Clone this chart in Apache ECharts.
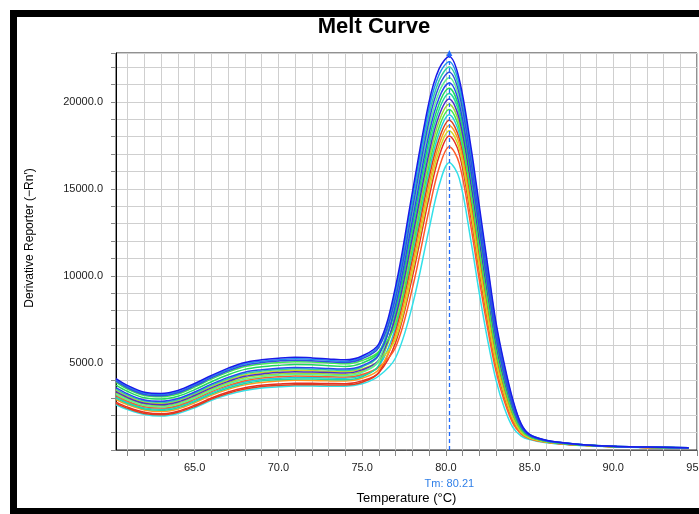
<!DOCTYPE html>
<html><head><meta charset="utf-8">
<script src="https://cdn.jsdelivr.net/npm/echarts@6/dist/echarts.min.js"></script>
<style>html,body{margin:0;padding:0;background:#fff}#c{width:699px;height:514px}</style>
</head><body><div id="c"></div>
<script>
const temps = [60.3,61,62,63,64,65,66,67,68,69,70,71,72,73,74,75,76,77,78,79,79.6,80.2,80.8,81.5,82,82.5,83,83.5,84,84.5,85,86,87,88,90,92,94.5];

const wellA = [4100,3700,3320,3250,3420,3820,4280,4700,5030,5180,5270,5320,5290,5230,5180,5400,6100,9400,14800,20000,21900,22600,21300,17400,14000,10600,7300,4900,2900,1500,900,560,420,320,210,170,130];
const wellH = [2600,2320,2040,1950,2100,2430,2850,3180,3420,3560,3630,3670,3670,3660,3660,3800,4250,5300,8300,12700,15200,16500,15600,12000,9000,6300,4000,2400,1300,800,600,420,330,260,180,140,100];
const well03 = [3950,3560,3190,3120,3290,3680,4140,4550,4870,5020,5110,5160,5130,5070,5030,5240,5900,8760,13830,18910,20900,21690,20450,16590,13250,9960,6810,4530,2660,1400,860,540,410,310,210,170,130];
const well04 = [3730,3360,3000,2930,3090,3470,3920,4320,4630,4780,4860,4910,4890,4840,4800,4990,5600,8110,12850,17810,19890,20770,19590,15780,12500,9310,6310,4150,2420,1290,810,520,390,300,200,160,120];
const well05 = [3500,3150,2810,2730,2890,3260,3710,4090,4390,4530,4610,4660,4640,4600,4570,4770,5450,8970,14150,19270,21230,21990,20730,16860,13500,10170,6970,4650,2740,1430,870,550,410,310,210,170,130];
const well06 = [3280,2940,2620,2540,2690,3060,3490,3860,4150,4290,4370,4410,4400,4370,4340,4520,5080,7470,11880,16720,18890,19860,18740,14970,11750,8670,5820,3780,2180,1190,770,500,380,290,200,160,120];
const well07 = [2900,2600,2300,2210,2360,2710,3140,3480,3740,3880,3960,4000,3990,3970,3960,4120,4620,6610,10580,15260,17550,18640,17600,13890,10750,7810,5160,3280,1860,1050,710,470,360,280,190,150,110];
const well08 = [2750,2460,2170,2080,2230,2570,2990,3330,3580,3720,3790,3840,3830,3820,3810,3970,4440,6180,9930,14530,16880,18030,17030,13350,10250,7380,4830,3030,1700,980,680,460,350,280,190,150,110];
const well09 = [3350,3010,2680,2600,2760,3130,3570,3940,4230,4370,4450,4500,4480,4450,4420,4600,5180,7680,12200,17080,19220,20160,19020,15240,12000,8880,5980,3900,2260,1220,780,500,380,300,200,160,120];
const well10 = [3050,2730,2420,2340,2500,2850,3280,3640,3900,4050,4120,4170,4160,4130,4120,4280,4820,7040,11230,15990,18220,19250,18170,14430,11250,8240,5490,3530,2020,1120,740,480,370,290,190,150,110];
const well11 = [3880,3490,3130,3060,3220,3610,4070,4470,4790,4940,5020,5070,5050,5000,4950,5140,5650,7250,11550,16350,18550,19550,18450,14700,11500,8450,5650,3650,2100,1150,750,490,380,290,200,160,120];
const well12 = [4030,3630,3260,3190,3350,3750,4210,4620,4950,5100,5190,5240,5210,5150,5100,5310,6000,9190,14480,19640,21570,22300,21020,17130,13750,10390,7140,4780,2820,1470,890,550,420,320,210,170,130];
const well13 = [3130,2800,2490,2410,2560,2920,3350,3710,3980,4130,4200,4250,4240,4210,4190,4340,4760,5900,9280,13800,16210,17420,16460,12810,9750,6950,4500,2780,1540,910,650,440,340,270,190,150,110];
const well14 = [3580,3220,2870,2800,2960,3330,3780,4170,4470,4610,4700,4740,4720,4680,4650,4840,5480,8330,13180,18180,20230,21080,19880,16050,12750,9530,6480,4280,2500,1330,830,530,400,310,200,160,120];
const well15 = [3200,2870,2550,2470,2630,2990,3420,3790,4060,4210,4290,4330,4320,4290,4270,4450,5150,8540,13500,18540,20560,21380,20160,16320,13000,9740,6640,4400,2580,1360,840,530,400,310,200,160,120];
const well16 = [2680,2390,2100,2020,2170,2500,2920,3260,3500,3640,3710,3750,3750,3740,3740,3890,4450,6820,10900,15620,17880,18940,17880,14160,11000,8020,5320,3400,1940,1080,720,480,370,280,190,150,110];
const well17 = [3430,3080,2740,2670,2830,3200,3640,4020,4310,4450,4530,4580,4560,4520,4500,4660,5120,6390,10250,14890,17210,18330,17310,13620,10500,7590,4990,3150,1780,1010,690,460,360,280,190,150,110];
const well18 = [2980,2670,2360,2280,2430,2780,3210,3560,3820,3970,4040,4080,4080,4050,4040,4210,4860,7900,12530,17450,19560,20470,19310,15510,12250,9100,6150,4030,2340,1260,800,510,390,300,200,160,120];

const wells = [wellH, well10, well16, well08, well13, well07, well17, well18, well06, well09, well15, well11, well04, well05, well14, well12, well03, wellA];
const wellColors = ['#33e0e8','#20c8e0','#d84020','#e83020','#ff5a28','#ff9a20','#d0d820','#20d8a0','#a0d830','#5030c8','#60f090','#40e850','#20d860','#30d0a0','#2848f0','#2090f0','#3050e0','#1a1ae8'];

const xTickValues = [61,62,63,64,65,66,67,68,69,70,71,72,73,74,75,76,77,78,79,80,81,82,83,84,85,86,87,88,89,90,91,92,93,94,95];
const xLabelValues = [65,70,75,80,85,90,95];
const yLabelValues = [5000,10000,15000,20000];
const tm = 80.21;

const FONT = '"Liberation Sans", Arial, sans-serif';
const chart = echarts.init(document.getElementById('c'), null, {renderer: 'canvas'});

const series = wells.map((w, k) => {
  const s = {
    type: 'line',
    data: temps.map((t, i) => [t, w[i]]),
    showSymbol: false,
    smooth: 0.35,
    lineStyle: {width: 1.5, color: wellColors[k]},
    itemStyle: {color: wellColors[k]},
    emphasis: {disabled: true},
    animation: false,
    silent: true
  };
  if (k === wells.length - 1) {
    s.markLine = {
      silent: true,
      animation: false,
      symbol: ['none', 'triangle'],
      symbolSize: 6,
      lineStyle: {type: [4, 3], color: '#1f6bff', width: 1.3, opacity: 1},
      itemStyle: {color: '#1f6bff'},
      emphasis: {disabled: true},
      label: {show: true, position: 'start', formatter: 'Tm: ' + tm.toFixed(2), color: '#2f7fe8', fontSize: 11, fontFamily: FONT, distance: 28},
      data: [{xAxis: tm}]
    };
  }
  return s;
});

chart.setOption({
  backgroundColor: '#fff',
  animation: false,
  grid: {left: 116, top: 53, right: 2, bottom: 64, show: true, borderColor: '#222', borderWidth: 1, backgroundColor: 'transparent', outerBoundsMode: 'none', containLabel: false},
  xAxis: {
    type: 'value', min: 60.3, max: 95,
    name: 'Temperature (°C)', nameLocation: 'middle', nameGap: 42,
    nameTextStyle: {color: '#000', fontSize: 13, fontFamily: FONT},
    axisLine: {show: true, lineStyle: {color: '#555', width: 1}},
    axisTick: {show: true, length: 6, customValues: xTickValues, lineStyle: {color: '#888'}},
    axisLabel: {customValues: xLabelValues, formatter: v => v.toFixed(1), color: '#222', fontSize: 11, fontFamily: FONT, margin: 12, hideOverlap: false},
    splitLine: {show: true, lineStyle: {color: '#cfcfcf', width: 1}}
  },
  yAxis: {
    type: 'value', min: 0, max: 22800, interval: 1000,
    axisLine: {show: true, lineStyle: {color: '#000', width: 1}},
    axisTick: {show: true, length: 5, lineStyle: {color: '#888'}},
    axisLabel: {customValues: yLabelValues, formatter: v => v.toFixed(1), color: '#222', fontSize: 11, fontFamily: FONT, margin: 13},
    splitLine: {show: true, lineStyle: {color: '#cfcfcf', width: 1}}
  },
  graphic: [
    {type: 'rect', shape: {x: 13.5, y: 13.5, width: 720, height: 498}, style: {fill: 'none', stroke: '#000', lineWidth: 7}, silent: true, z: 100},
    {type: 'text', x: 374, y: 27, style: {text: 'Melt Curve', align: 'center', verticalAlign: 'middle', font: 'bold 22px ' + FONT, fill: '#000'}},
    {type: 'text', x: 30, y: 238, rotation: Math.PI / 2, style: {text: 'Derivative Reporter (\u2212Rn\u2032)', align: 'center', verticalAlign: 'middle', font: '12px ' + FONT, fill: '#000'}}
  ],
  series: series
});
</script>
</body></html>
